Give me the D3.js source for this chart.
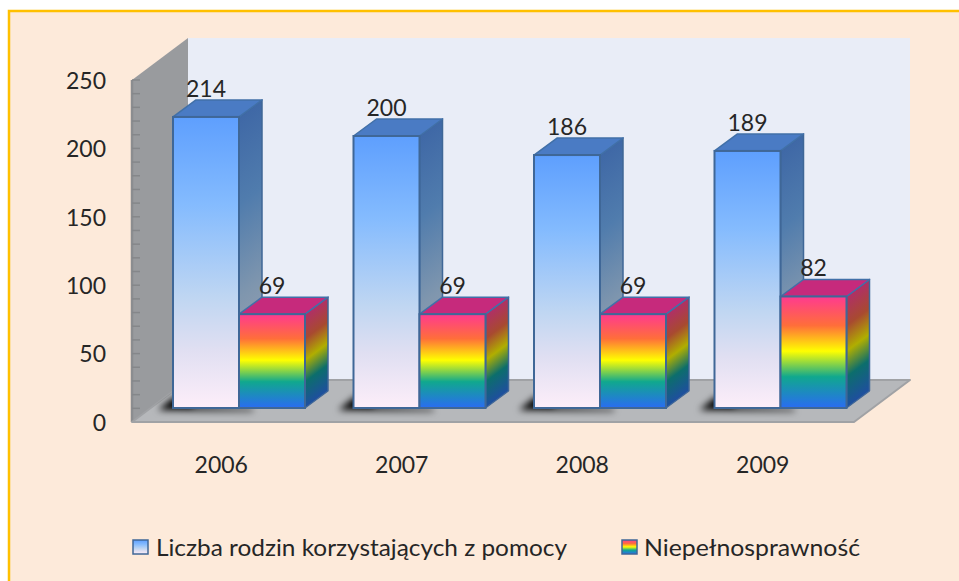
<!DOCTYPE html>
<html><head><meta charset="utf-8">
<style>html,body{margin:0;padding:0;background:#fff}svg{display:block}
text{font-family:Lato,"Noto Sans",sans-serif;fill:#262626}
.domain{display:none}</style>
<script src="https://cdn.jsdelivr.net/npm/d3@7"></script>
</head><body>
<script>
const years = ["2006","2007","2008","2009"];
const seriesNames = ["Liczba rodzin korzystających z pomocy","Niepełnosprawność"];
const families = [214,200,186,189];
const disability = [69,69,69,82];
const yTickValues = [0,50,100,150,200,250];
const minorTicks = d3.range(0,251,10);

const W=959,H=581;
const svg=d3.select("body").append("svg").attr("width",W).attr("height",H);
const defs=svg.append("defs");
function grad(id,stops){
  const g=defs.append("linearGradient").attr("id",id).attr("x1",0).attr("y1",0).attr("x2",0).attr("y2",1);
  stops.forEach(s=>g.append("stop").attr("offset",s[0]).attr("stop-color",s[1]));
}
grad("blueFront",[[0,"#5E9FFE"],[.3,"#84BBFE"],[.62,"#BFD6F2"],[.8,"#E0DFF2"],[1,"#FDEEF9"]]);
grad("blueSide",[[0,"#3F68A6"],[.3,"#507CAD"],[.62,"#7F96AE"],[1,"#A8A8B4"]]);
grad("rainFront",[[0,"#FF3A90"],[.26,"#FF6E3A"],[.49,"#FFFF00"],[.72,"#10A88E"],[1,"#2A6CF2"]]);
grad("rainSide",[[0,"#B02F68"],[.26,"#A84A30"],[.49,"#B0AE00"],[.72,"#0C6E6C"],[1,"#1F4EA0"]]);
defs.append("filter").attr("id","soft").attr("x","-30%").attr("y","-60%").attr("width","160%").attr("height","220%")
  .append("feGaussianBlur").attr("stdDeviation",3.5);

// frame
svg.append("rect").attr("x",9).attr("y",11).attr("width",W).attr("height",H)
  .attr("fill","#FDEADA").attr("stroke","#FFC000").attr("stroke-width",2.5);

const L=132,Rt=854,B=422,T=80;
const wdx=56,wdy=-42;
const x=d3.scaleBand().domain(years).range([L,Rt]);
const y=d3.scaleLinear().domain([0,250]).range([B,T]);
// bars stand on a plane further back, where the same values span slightly less
const yBar=d3.scaleLinear().domain([0,250]).range([408,68]);
const bw=66, inset=41, bdx=23, bdy=-17;
const pts=a=>a.map(p=>p.join(",")).join(" ");

// back wall
svg.append("rect").attr("x",L+wdx).attr("y",T+wdy).attr("width",Rt-L).attr("height",B-T).attr("fill","#E9EDF7");
// left wall
svg.append("polygon").attr("points",pts([[L,T],[L+wdx,T+wdy],[L+wdx,B+wdy],[L,B]])).attr("fill","#999B9E");
svg.append("line").attr("x1",L).attr("x2",L).attr("y1",T).attr("y2",B).attr("stroke","#8B8D90").attr("stroke-width",2.5);
svg.selectAll(".minor").data(minorTicks).join("line").attr("class","minor")
  .attr("x1",L).attr("x2",L+8).attr("y1",d=>y(d)).attr("y2",d=>y(d)).attr("stroke","#85878A").attr("stroke-width",1.5);
// floor
svg.append("polygon").attr("points",pts([[L,B],[L+wdx,B+wdy],[Rt+wdx,B+wdy],[Rt,B]]))
  .attr("fill","#B6B8BB").attr("stroke","#A0A2A5").attr("stroke-width",2).attr("stroke-linejoin","round");
defs.append("clipPath").attr("id","floorClip").append("polygon").attr("points",pts([[L,B],[L+wdx,B+wdy],[Rt+wdx,B+wdy],[Rt,B]]));

// shadows
const shadows=svg.append("g").attr("clip-path","url(#floorClip)");
years.forEach(yr=>{
  const bx=x(yr)+inset, by=yBar(0);
  shadows.append("polygon").attr("points",pts([[bx-15,by+2],[bx+1,by-11],[bx+20,by-11],[bx+20,by-2],[bx+80,by+1],[bx+80,by+3]]))
    .attr("fill","#000").attr("filter","url(#soft)");
});

function drawBar(g,left,val,front,side,top){
  const base=yBar(0), t=yBar(val), h=base-t;
  g.append("g").attr("transform",`translate(${left+bw},${t}) matrix(1,${bdy/bdx},0,1,0,0)`)
    .append("rect").attr("width",bdx).attr("height",h).attr("fill",`url(#${side})`)
    .attr("stroke","#3F6797").attr("stroke-width",1.5).attr("stroke-linejoin","round");
  g.append("polygon").attr("points",pts([[left,t],[left+bdx,t+bdy],[left+bw+bdx,t+bdy],[left+bw,t]]))
    .attr("fill",top).attr("stroke","#4170A8").attr("stroke-width",1.5).attr("stroke-linejoin","round");
  g.append("rect").attr("x",left).attr("y",t).attr("width",bw).attr("height",h)
    .attr("fill",`url(#${front})`).attr("stroke","#3F6797").attr("stroke-width",2);
  return t;
}
const bars=svg.append("g");
const labels=[];
years.forEach((yr,i)=>{
  const bx=x(yr)+inset;
  const t1=drawBar(bars,bx,families[i],"blueFront","blueSide","#4A7BC4");
  const t2=drawBar(bars,bx+bw,disability[i],"rainFront","rainSide","#C62A7C");
  labels.push({x:bx+bw/2,y:t1-20,v:families[i]},{x:bx+bw*1.5,y:t2-20,v:disability[i]});
});
svg.selectAll(".val").data(labels).join("text").attr("class","val")
  .attr("x",d=>d.x).attr("y",d=>d.y).attr("text-anchor","middle").attr("font-size",23).text(d=>d.v);

// axes
const ya=svg.append("g").attr("transform",`translate(106,0)`)
  .call(d3.axisLeft(y).tickValues(yTickValues).tickSize(0).tickPadding(0));
ya.selectAll("text").attr("font-size",23).attr("dy","0.36em");
const xa=svg.append("g").attr("transform",`translate(-1,${B+33})`)
  .call(d3.axisBottom(x).tickSize(0).tickPadding(0));
xa.selectAll("text").attr("font-size",23).attr("dy","0.8em");
svg.selectAll(".tick text").style("font-family",'Lato,"Noto Sans",sans-serif').style("fill","#262626");

// legend
const legend=[{x:133,tx:156,len:411,f:"blueFront",n:seriesNames[0]},{x:622,tx:644,len:216,f:"rainFront",n:seriesNames[1]}];
legend.forEach(l=>{
  svg.append("rect").attr("x",l.x).attr("y",540).attr("width",15).attr("height",14)
    .attr("fill",`url(#${l.f})`).attr("stroke","#3F6797").attr("stroke-width",1.5);
  svg.append("text").attr("x",l.tx).attr("y",556).attr("font-size",24)
    .attr("textLength",l.len).attr("lengthAdjust","spacingAndGlyphs").text(l.n);
});
</script>
</body></html>
